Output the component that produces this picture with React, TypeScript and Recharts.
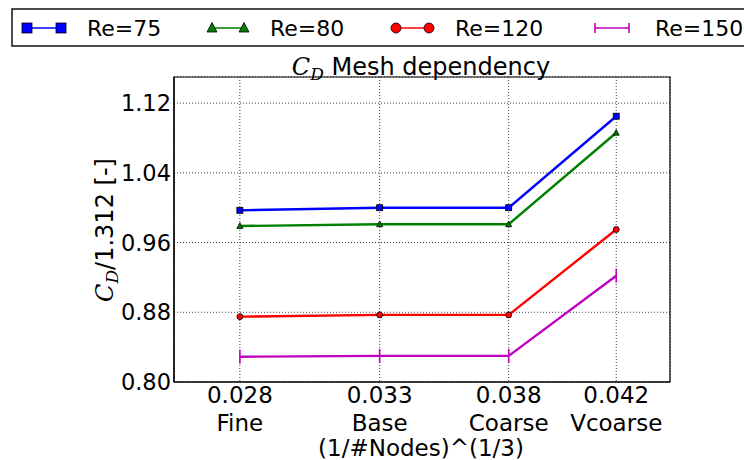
import React from 'react';
import {
  CartesianGrid,
  Customized,
  Line,
  LineChart,
  ReferenceArea,
  XAxis,
  YAxis
} from 'recharts';

// (1/#Nodes)^(1/3) for each mesh
const meshSize = [0.028, 0.0332, 0.038, 0.042];
const meshTickLabels = ['0.028', '0.033', '0.038', '0.042'];
const meshNames = ['Fine', 'Base', 'Coarse', 'Vcoarse'];

// C_D / 1.312 per Reynolds number
const re75 = [0.997, 1.0, 1.0, 1.105];
const re80 = [0.979, 0.981, 0.981, 1.086];
const re120 = [0.875, 0.877, 0.877, 0.975];
const re150 = [0.829, 0.83, 0.83, 0.922];

const yTicks = [0.8, 0.88, 0.96, 1.04, 1.12];

const data = meshSize.map((x, i) => ({
  x,
  re75: re75[i],
  re80: re80[i],
  re120: re120[i],
  re150: re150[i]
}));

const FONT = '"DejaVu Sans", sans-serif';
const MATH = '"DejaVu Serif", serif';

const SquareDot = (props: any) => {
  const { cx, cy, fill, s = 6 } = props;
  return <rect x={cx - s / 2} y={cy - s / 2} width={s} height={s} fill={fill} stroke="#000" strokeWidth={0.8} />;
};

const TriangleDot = (props: any) => {
  const { cx, cy, fill, s = 6 } = props;
  const h = s / 2;
  return (
    <path
      d={`M${cx},${cy - h * 1.1} L${cx + h},${cy + h * 0.8} L${cx - h},${cy + h * 0.8} Z`}
      fill={fill}
      stroke="#000"
      strokeWidth={0.8}
    />
  );
};

const CircleDot = (props: any) => {
  const { cx, cy, fill, s = 6 } = props;
  return <circle cx={cx} cy={cy} r={s / 2} fill={fill} stroke="#000" strokeWidth={0.8} />;
};

const VlineDot = (props: any) => {
  const { cx, cy, stroke, s = 14 } = props;
  return <line x1={cx} x2={cx} y1={cy - s / 2} y2={cy + s / 2} stroke={stroke} strokeWidth={1.6} />;
};

const series = [
  { key: 're75', name: 'Re=75', color: '#0000ff', Dot: SquareDot, ls: 10 },
  { key: 're80', name: 'Re=80', color: '#008000', Dot: TriangleDot, ls: 10 },
  { key: 're120', name: 'Re=120', color: '#ff0000', Dot: CircleDot, ls: 10 },
  { key: 're150', name: 'Re=150', color: '#bf00bf', Dot: VlineDot, ls: 10 }
];

const XTick = (props: any) => {
  const { x, y, index } = props;
  return (
    <g transform={`translate(${x},${y})`}>
      <text textAnchor="middle" fontFamily={FONT} fontSize={23} fill="#000">
        <tspan x={0} y={21}>{meshTickLabels[index]}</tspan>
        <tspan x={0} y={49}>{meshNames[index]}</tspan>
      </text>
    </g>
  );
};

const legendPos = [
  { x1: 27, x2: 61, tx: 87 },
  { x1: 212, x2: 244, tx: 270 },
  { x1: 396, x2: 429, tx: 455 },
  { x1: 595, x2: 629, tx: 655 }
];

const Decorations = () => (
  <g>
    <text x={421} y={75} textAnchor="middle" fontFamily={FONT} fontSize={24} fill="#000">
      <tspan fontFamily={MATH} fontStyle="italic">C</tspan>
      <tspan fontFamily={MATH} fontStyle="italic" fontSize={17} dy={5}>D</tspan>
      <tspan dy={-5}> Mesh dependency</tspan>
    </text>
    <text
      transform="translate(113,230) rotate(-90)"
      textAnchor="middle"
      fontFamily={FONT}
      fontSize={24}
      fill="#000"
    >
      <tspan fontFamily={MATH} fontStyle="italic">C</tspan>
      <tspan fontFamily={MATH} fontStyle="italic" fontSize={17} dy={5}>D</tspan>
      <tspan dy={-5}>/1.312 [-]</tspan>
    </text>
    <text x={421} y={456} textAnchor="middle" fontFamily={FONT} fontSize={23} fill="#000">
      (1/#Nodes)^(1/3)
    </text>
    <rect x={12} y={9} width={760} height={37} fill="#fff" stroke="#111" strokeWidth={1.5} />
    {series.map((s, i) => {
      const p = legendPos[i];
      return (
        <g key={s.key}>
          <line x1={p.x1} x2={p.x2} y1={28} y2={28} stroke={s.color} strokeWidth={1.5} />
          <s.Dot cx={p.x1} cy={28} fill={s.color} stroke={s.color} s={s.ls} />
          <s.Dot cx={p.x2} cy={28} fill={s.color} stroke={s.color} s={s.ls} />
          <text x={p.tx} y={36} fontFamily={FONT} fontSize={22} fill="#000">
            {s.name}
          </text>
        </g>
      );
    })}
  </g>
);

const App: React.FC = () => {
  return (
    <div style={{ position: 'absolute', left: 0, top: 0, background: '#fff' }}>
      <LineChart
        width={744}
        height={460}
        data={data}
        margin={{ top: 77, right: 74, left: 0, bottom: 0 }}
      >
        <CartesianGrid stroke="#444" strokeDasharray="1 2" strokeWidth={1} />
        <XAxis
          dataKey="x"
          type="number"
          domain={[0.02555, 0.044]}
          ticks={meshSize}
          height={78}
          tick={<XTick />}
          tickLine={false}
          tickSize={0}
          tickMargin={0}
          axisLine={{ stroke: '#000', strokeWidth: 1.2 }}
          allowDataOverflow
        />
        <YAxis
          type="number"
          domain={[0.8, 1.15]}
          ticks={yTicks}
          width={174}
          tickFormatter={(v: number) => v.toFixed(2)}
          tick={{ fontFamily: FONT, fontSize: 22.5, fill: '#000' }}
          tickLine={false}
          tickSize={0}
          tickMargin={3}
          axisLine={{ stroke: '#000', strokeWidth: 1.2 }}
          allowDataOverflow
        />
        <ReferenceArea
          x1={0.02555}
          x2={0.044}
          y1={0.8}
          y2={1.15}
          fill="none"
          fillOpacity={0}
          stroke="#000"
          strokeWidth={1.2}
        />
        {series.map((s) => (
          <Line
            key={s.key}
            dataKey={s.key}
            name={s.name}
            stroke={s.color}
            strokeWidth={2.4}
            fill={s.color}
            dot={<s.Dot fill={s.color} stroke={s.color} />}
            activeDot={false}
            type="linear"
            isAnimationActive={false}
          />
        ))}
        <Customized component={Decorations} />
      </LineChart>
    </div>
  );
};

export default App;
